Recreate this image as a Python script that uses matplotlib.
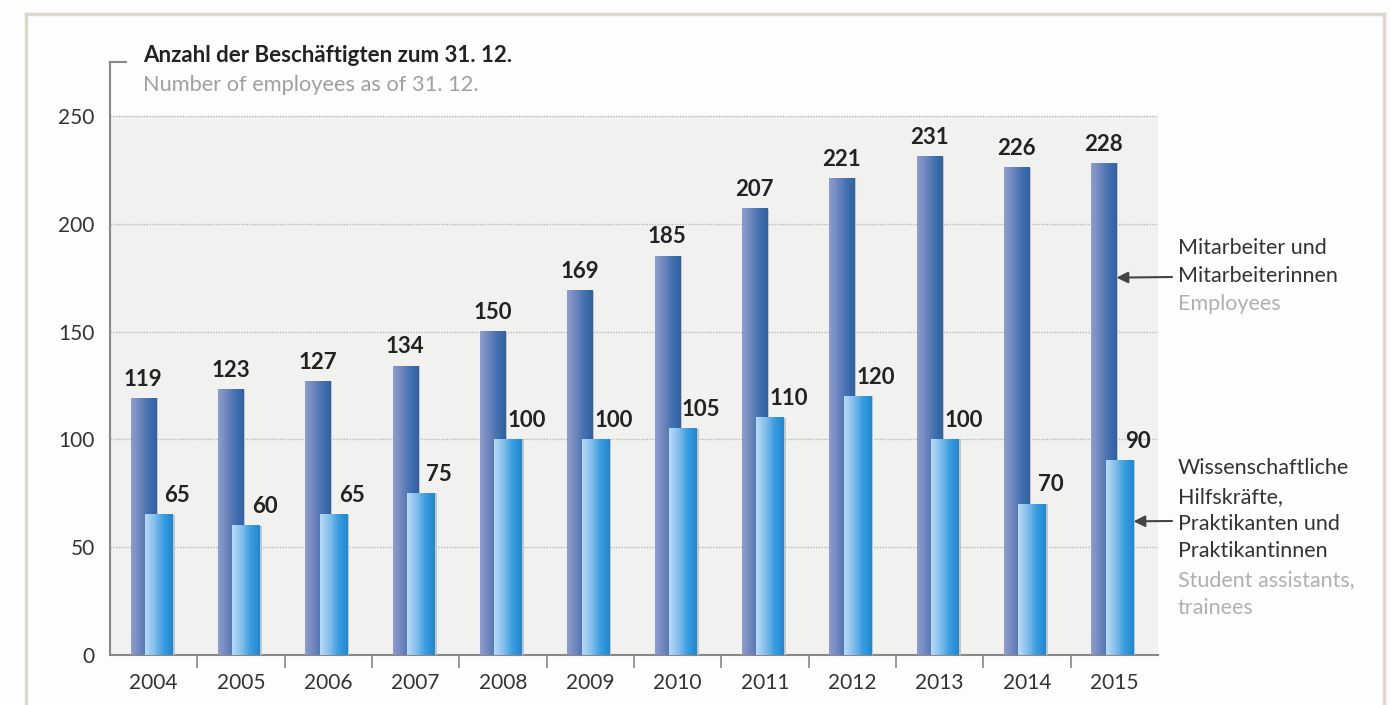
import numpy as np
import matplotlib.pyplot as plt
from matplotlib.colors import LinearSegmentedColormap
from matplotlib.lines import Line2D

plt.rcParams['font.family'] = ['Lato', 'DejaVu Sans']

years = ['2004', '2005', '2006', '2007', '2008', '2009',
         '2010', '2011', '2012', '2013', '2014', '2015']
employees = [119, 123, 127, 134, 150, 169, 185, 207, 221, 231, 226, 228]
assistants = [65, 60, 65, 75, 100, 100, 105, 110, 120, 100, 70, 90]
yticks = [0, 50, 100, 150, 200, 250]

dark_cmap = LinearSegmentedColormap.from_list('dark', ['#8e9ecd', '#6f86bd', '#4471b0', '#2f61a4'])
light_cmap = LinearSegmentedColormap.from_list('light', ['#b8daf5', '#84bfec', '#3a9de0', '#1d88d4'])
grad = np.linspace(0, 1, 64).reshape(1, -1)

fig = plt.figure(figsize=(13.91, 7.05), dpi=100)
ax = fig.add_axes([110 / 1391, 1 - 655 / 705, (1158 - 110) / 1391, (655 - 62) / 705])

# outer frame
fc = '#dcd9cf'
fig.add_artist(Line2D([26 / 1391, 26 / 1391], [0, 1 - 14 / 705], transform=fig.transFigure, color=fc, lw=2.5))
fig.add_artist(Line2D([26 / 1391, 1384 / 1391], [1 - 14 / 705, 1 - 14 / 705], transform=fig.transFigure, color=fc, lw=2.5))
fig.add_artist(Line2D([1384 / 1391, 1384 / 1391], [0, 1 - 14 / 705], transform=fig.transFigure, color=fc, lw=2.5))

x = np.arange(len(years))

# plot background up to 250
ax.axhspan(0, 250, color='#f1f1ef', zorder=0, lw=0)
for t in yticks[1:]:
    ax.axhline(t, color='#b8b8b8', lw=1, ls=(0, (1, 1)), zorder=1)

dw, do = 0.29, -0.12
lw_, lo = 0.32, 0.06
for i in range(len(years)):
    # shadow
    ax.bar(x[i] + do + 0.02, employees[i], width=dw, color='#c4c4c4', zorder=2, lw=0)
    ax.imshow(grad, cmap=dark_cmap, aspect='auto', zorder=3,
              extent=[x[i] + do - dw / 2, x[i] + do + dw / 2, 0, employees[i]])
    ax.bar(x[i] + lo + 0.02, assistants[i], width=lw_, color='#c4c4c4', zorder=4, lw=0)
    ax.imshow(grad, cmap=light_cmap, aspect='auto', zorder=5,
              extent=[x[i] + lo - lw_ / 2, x[i] + lo + lw_ / 2, 0, assistants[i]])
    ax.text(x[i] + do, employees[i] + 4, str(employees[i]), ha='center', va='bottom',
            fontsize=16, fontweight='bold', color='#222222', zorder=6)
    ax.text(x[i] + lo + 0.21, assistants[i] + 4, str(assistants[i]), ha='center', va='bottom',
            fontsize=16, fontweight='bold', color='#222222', zorder=6)

ax.set_xlim(-0.5, len(years) - 0.5)
ax.set_ylim(0, 275)

ax.set_xticks(x)
ax.set_xticklabels(years)
ax.set_xticks(x[:-1] + 0.5, minor=True)
ax.tick_params(axis='x', which='major', length=0, pad=13, labelsize=15, labelcolor='#333333')
ax.tick_params(axis='x', which='minor', length=9, width=1.2, color='#888888', direction='out')
ax.set_yticks(yticks)
ax.tick_params(axis='y', length=0, pad=11, labelsize=15, labelcolor='#333333')

for s in ['top', 'right']:
    ax.spines[s].set_visible(False)
ax.spines['left'].set_color('#888888')
ax.spines['left'].set_linewidth(1.5)
ax.spines['bottom'].set_color('#888888')
ax.spines['bottom'].set_linewidth(1.5)
ax.set_facecolor('none')
fig.patch.set_facecolor('#fdfdfd')

# small tick at top of y axis
ax.plot([-0.5, -0.32], [275, 275], color='#888888', lw=1.5, clip_on=False)

fig.text(143 / 1391, 1 - 55 / 705, 'Anzahl der Beschäftigten zum 31. 12.', fontsize=16,
         fontweight='bold', color='#222222', va='center')
fig.text(143 / 1391, 1 - 85 / 705, 'Number of employees as of 31. 12.', fontsize=15.7,
         color='#a0a0a0', va='center')

# right side annotations
tx = 1178 / 1391
for yy, s, c in [(248, 'Mitarbeiter und', '#333333'), (276, 'Mitarbeiterinnen', '#333333'),
                 (304, 'Employees', '#b0b0b0'),
                 (468, 'Wissenschaftliche', '#333333'), (497, 'Hilfskräfte,', '#333333'),
                 (524, 'Praktikanten und', '#333333'), (551, 'Praktikantinnen', '#333333'),
                 (580, 'Student assistants,', '#b0b0b0'), (608, 'trainees', '#b0b0b0')]:
    fig.text(tx, 1 - yy / 705, s, fontsize=15.5, color=c, va='center')

arrow = dict(arrowstyle='-|>', color='#444444', lw=1.5, mutation_scale=17, shrinkA=0, shrinkB=0)
ax.annotate('', xy=(x[-1] + do + dw / 2, 175), xycoords='data',
            xytext=(1172 / 1391, 1 - 277 / 705), textcoords='figure fraction',
            arrowprops=arrow, zorder=10, annotation_clip=False)
ax.annotate('', xy=(x[-1] + lo + lw_ / 2, 62), xycoords='data',
            xytext=(1172 / 1391, 1 - 521 / 705), textcoords='figure fraction',
            arrowprops=arrow, zorder=10, annotation_clip=False)

fig.savefig('out.png', dpi=100, facecolor=fig.get_facecolor())
